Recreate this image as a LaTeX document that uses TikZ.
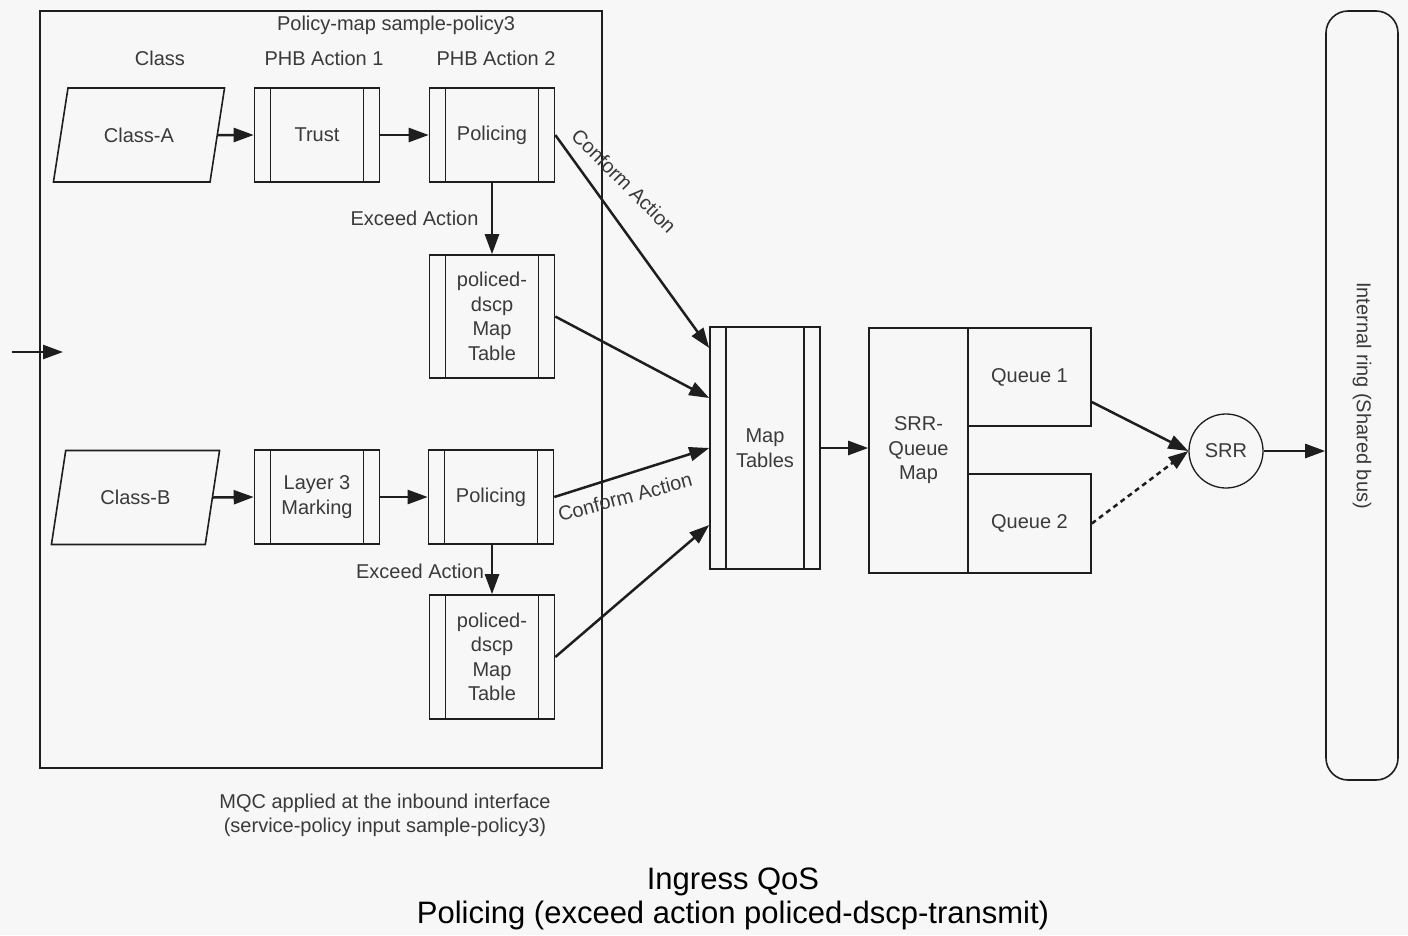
\documentclass[tikz,border=0pt]{standalone}
\usepackage{fontspec}
\setmainfont{Liberation Sans}
\usetikzlibrary{shapes.geometric,arrows.meta,positioning}
\definecolor{bgcol}{HTML}{F7F7F7}
\definecolor{inkcol}{HTML}{1E1E1E}
\definecolor{txtcol}{HTML}{3A3A3A}
\tikzstyle{procbox} = [draw=inkcol, line width=1.6pt, rectangle, minimum width=125pt,
    minimum height=94pt, align=center, inner sep=0pt,
    path picture={\draw[inkcol, line width=1.6pt]
      ([xshift=16pt]path picture bounding box.north west) -- ([xshift=16pt]path picture bounding box.south west)
      ([xshift=-16pt]path picture bounding box.north east) -- ([xshift=-16pt]path picture bounding box.south east);}]
\tikzstyle{classbox} = [draw=inkcol, line width=1.6pt, trapezium, trapezium left angle=64,
    trapezium right angle=116, trapezium stretches=true, minimum width=172pt,
    minimum height=94pt, inner sep=0pt]
\tikzstyle{plainbox} = [draw=inkcol, line width=1.6pt, rectangle, align=center, inner sep=0pt]
\tikzstyle{flow} = [draw=inkcol, line width=2.5pt, -{Triangle[length=20pt,width=14pt]}]
\tikzstyle{note} = [text=txtcol, align=center]

\begin{document}
\begin{tikzpicture}[x=1pt, y=-1pt, font=\fontsize{20}{24.5}\selectfont, text=txtcol]
\fill[bgcol] (0,0) rectangle (1408,935);
\useasboundingbox (0,0) rectangle (1408,935);
% policy map frame
\node[plainbox, minimum width=562pt, minimum height=757pt] (policymap) at (321,389.5) {};
\node[note] (mapname) at (396,25) {Policy-map sample-policy3};
\node[note] (hclass) at (160,58) {Class};
\node[note] (hphb1) at (324,58) {PHB Action 1};
\node[note] (hphb2) at (496,58) {PHB Action 2};
% class A
\node[classbox] (classA) at (139,135) {Class-A};
\node[procbox] (trust) at (317,135) {Trust};
\node[procbox] (policeA) at (492,135) {Policing};
\node[procbox, minimum height=123pt] (dscpA) at (492,316.5) {policed-\\dscp\\Map\\Table};
% class B
\node[classbox, minimum width=169pt] (classB) at (135.5,497.5) {Class-B};
\node[procbox] (marking) at (317,497) {Layer 3\\Marking};
\node[procbox] (policeB) at (491,497) {Policing};
\node[procbox, minimum height=124pt] (dscpB) at (492,657) {policed-\\dscp\\Map\\Table};
\node[note] (mqc) at (385,815.5) {MQC applied at the inbound interface\\(service-policy input sample-policy3)};
% queueing
\node[procbox, minimum width=110pt, minimum height=242pt] (maptab) at (765,448) {Map\\Tables};
\node[plainbox, minimum width=99pt, minimum height=245pt] (srrmap) at (918.5,450.5) {SRR-\\Queue\\Map};
\node[plainbox, minimum width=123pt, minimum height=98pt] (queue1) at (1029.5,377) {Queue 1};
\node[plainbox, minimum width=123pt, minimum height=99pt] (queue2) at (1029.5,523.5) {Queue 2};
\node[draw=inkcol, line width=1.3pt, circle, minimum size=74pt, inner sep=0pt] (srr) at (1226,451) {SRR};
\node[plainbox, rounded corners=22pt, minimum width=72pt, minimum height=769pt] (bus) at (1362,395.5) {};
\node[note, rotate=-90] (busname) at (bus.center) {Internal ring (Shared bus)};
\node[text=black, font=\fontsize{31}{34}\selectfont, align=center] (caption) at (733,899)
    {Ingress QoS\\Policing (exceed action policed-dscp-transmit)};
% arrows
\coordinate (infrom) at (12,352);
\coordinate (into) at (63,352);
\draw[flow] (infrom) -- (into);
\draw[flow] (classA.east) -- (trust.west);
\draw[flow] (trust.east) -- (policeA.west);
\draw[flow] (policeA.south) -- (dscpA.north);
\node[note, anchor=east] (exceedA) at (482,218) {Exceed Action};
\draw[flow] (classB.east) -- (marking.west);
\draw[flow] (marking.east) -- (policeB.west);
\draw[flow] (policeB.south -| dscpB.north) -- (dscpB.north);
\node[note] (exceedB) at (420,571) {Exceed Action};
\draw[flow] (policeA.east) -- ([yshift=100pt]maptab.west);
\node[note, rotate=-45] (conformA) at (624,181) {Conform Action};
\draw[flow] (dscpA.east) -- ([yshift=50pt]maptab.west);
\draw[flow] (policeB.east) -- (maptab.west);
\node[note, rotate=15] (conformB) at (625,497) {Conform Action};
\draw[flow] (dscpB.east) -- ([yshift=-77pt]maptab.west);
\draw[flow] (maptab.east) -- (maptab.east -| srrmap.west);
\draw[flow] ([yshift=-25pt]queue1.east) -- (srr.west);
\draw[flow, dash pattern=on 5pt off 4pt] (queue2.east) -- (srr.west);
\draw[flow] (srr.east) -- (srr -| bus.west);
\end{tikzpicture}
\end{document}
